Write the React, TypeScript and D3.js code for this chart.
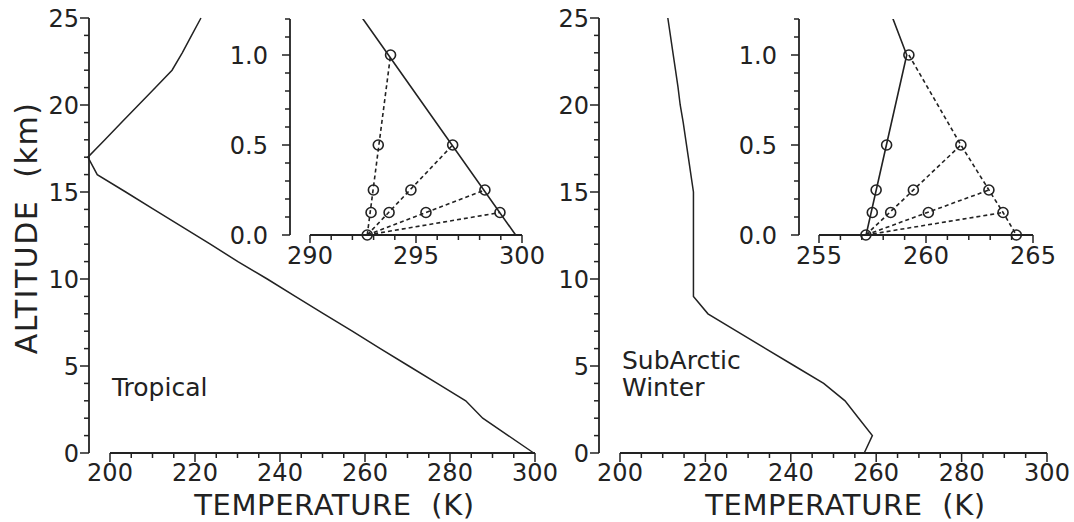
import React from 'react';
import * as d3 from 'd3';

// ---- Data ----
const ALT_KM = [0, 1, 2, 3, 4, 5, 6, 7, 8, 9, 10, 11, 12, 13, 14, 15, 16, 17, 18, 19, 20, 21, 22, 23, 24, 25];
const TROPICAL_T = [299.7, 293.7, 287.7, 283.7, 277.0, 270.3, 263.6, 257.0, 250.3, 243.6, 237.0, 230.1, 223.6, 217.0, 210.3, 203.7, 197.0, 194.8, 198.8, 202.7, 206.7, 210.7, 214.6, 217.0, 219.2, 221.4];
const SUBARCTIC_T = [257.2, 259.1, 255.9, 252.7, 247.7, 240.9, 234.1, 227.3, 220.6, 217.2, 217.2, 217.2, 217.2, 217.2, 217.2, 217.2, 216.6, 216.0, 215.4, 214.8, 214.1, 213.6, 213.0, 212.4, 211.8, 211.2];

const MAIN_X_TICKS = [200, 220, 240, 260, 280, 300];
const MAIN_Y_TICKS = [0, 5, 10, 15, 20, 25];
const INSET_Y_TICKS = [0.0, 0.5, 1.0];
const TROP_INSET_X_TICKS = [290, 295, 300];
const SAW_INSET_X_TICKS = [255, 260, 265];

// Tropical inset markers
const TROP_CIRCLE_ALT = [1.0, 0.5, 0.5, 0.25, 0.25, 0.25, 0.125, 0.125, 0.125, 0.125, 0];
const TROP_CIRCLE_T = [293.8, 293.22, 296.73, 292.99, 294.76, 298.25, 292.88, 293.73, 295.47, 298.96, 292.7];
// Tropical dashed lines (each from the surface point to an end point)
const TROP_DASH_START = [292.7, 0];
const TROP_DASH_END_T = [293.8, 296.73, 298.25, 298.96];
const TROP_DASH_END_ALT = [1.0, 0.5, 0.25, 0.125];

// SubArctic winter inset markers
const SAW_CIRCLE_ALT = [1.0, 0.5, 0.5, 0.25, 0.25, 0.25, 0.125, 0.125, 0.125, 0.125, 0, 0];
const SAW_CIRCLE_T = [259.2, 258.16, 261.63, 257.67, 259.41, 262.94, 257.49, 258.35, 260.11, 263.6, 257.19, 264.22];
const SAW_DASH_START = [257.19, 0];
const SAW_DASH_END_T = [261.63, 262.94, 263.6];
const SAW_DASH_END_ALT = [0.5, 0.25, 0.125];
const SAW_CHAIN_T = [259.2, 261.63, 262.94, 263.6, 264.22];
const SAW_CHAIN_ALT = [1.0, 0.5, 0.25, 0.125, 0];

const INK = '#222';
const FONT = '"DejaVu Sans", Arial, sans-serif';

type Pt = [number, number];

function zipPts(ts: number[], alts: number[]): Pt[] {
  return ts.map((t, i) => [t, alts[i]] as Pt);
}

interface AxesProps {
  x: d3.ScaleLinear<number, number>;
  y: d3.ScaleLinear<number, number>;
  yAxisX: number;
  xMinorStep: number;
  yMinorStep: number;
  xLabels: number[];
  yLabels: number[];
  yFmt: (v: number) => string;
  yLabelGap: number;
  xLabelBaseline: number;
  majorLen: number;
  minorLen: number;
}

function Axes(p: AxesProps) {
  const [x0, x1] = p.x.domain();
  const [y0, y1] = p.y.domain();
  const xTicks = d3.range(x0, x1 + 1e-9, p.xMinorStep);
  const yTicks = d3.range(y0, y1 + 1e-9, p.yMinorStep);
  const isMajor = (v: number, arr: number[]) => arr.some((a) => Math.abs(a - v) < 1e-6);
  const yBase = p.y(y0);
  return (
    <g>
      <line x1={p.yAxisX} x2={p.yAxisX} y1={p.y(y1)} y2={yBase} stroke={INK} strokeWidth={1.8} />
      {yTicks.map((v, i) => {
        const maj = isMajor(v, p.yLabels);
        return (
          <line key={'yt' + i} x1={p.yAxisX} x2={p.yAxisX - (maj ? p.majorLen : p.minorLen)} y1={p.y(v)} y2={p.y(v)} stroke={INK} strokeWidth={1.5} />
        );
      })}
      {p.yLabels.map((v, i) => (
        <text key={'yl' + i} x={p.yAxisX - p.yLabelGap} y={p.y(v)} dy="0.36em" textAnchor="end" fontSize={24} fill={INK} fontFamily={FONT}>
          {p.yFmt(v)}
        </text>
      ))}
      <line x1={p.x(x0)} x2={p.x(x1)} y1={yBase} y2={yBase} stroke={INK} strokeWidth={1.8} />
      {xTicks.map((v, i) => {
        const maj = isMajor(v, p.xLabels);
        return (
          <line key={'xt' + i} x1={p.x(v)} x2={p.x(v)} y1={yBase} y2={yBase + (maj ? p.majorLen : p.minorLen)} stroke={INK} strokeWidth={1.5} />
        );
      })}
      {p.xLabels.map((v, i) => (
        <text key={'xl' + i} x={p.x(v)} y={p.xLabelBaseline} textAnchor="middle" fontSize={24} fill={INK} fontFamily={FONT}>
          {String(v)}
        </text>
      ))}
    </g>
  );
}

interface PanelProps {
  id: string;
  mainLeft: number;
  mainRight: number;
  insetLeft: number;
  insetRight: number;
  insetDomain: [number, number];
  insetXTicks: number[];
  profile: number[];
  label: string[];
  circleT: number[];
  circleAlt: number[];
  dashed: Pt[][];
}

function Panel(p: PanelProps) {
  const x = d3.scaleLinear().domain([200, 300]).range([p.mainLeft, p.mainRight]);
  const y = d3.scaleLinear().domain([0, 25]).range([453, 18]);
  const xi = d3.scaleLinear().domain(p.insetDomain).range([p.insetLeft, p.insetRight]);
  const yi = d3.scaleLinear().domain([0, 1.2]).range([235, 19]);

  const mainLine = d3.line<Pt>().x((d) => x(d[0])).y((d) => y(d[1]));
  const insetLine = d3.line<Pt>().x((d) => xi(d[0])).y((d) => yi(d[1]));
  const prof = zipPts(p.profile, ALT_KM);
  const circles = zipPts(p.circleT, p.circleAlt);
  const clipId = 'clip-' + p.id;

  return (
    <g>
      <Axes
        x={x}
        y={y}
        yAxisX={p.mainLeft - 21}
        xMinorStep={5}
        yMinorStep={1}
        xLabels={MAIN_X_TICKS}
        yLabels={MAIN_Y_TICKS}
        yFmt={(v) => String(v)}
        yLabelGap={10}
        xLabelBaseline={481}
        majorLen={9}
        minorLen={5}
      />
      <path d={mainLine(prof) || ''} fill="none" stroke={INK} strokeWidth={1.5} />
      <text
        x={(p.mainLeft + p.mainRight) / 2 + 12}
        y={515}
        textAnchor="middle"
        fontSize={29}
        fill={INK}
        fontFamily={FONT}
        letterSpacing={0.6}
        style={{ whiteSpace: 'pre' }}
      >
        {'TEMPERATURE  (K)'}
      </text>
      {p.label.map((s, i) => (
        <text key={'lab' + i} x={p.mainLeft + 2} y={(p.label.length === 1 ? 396 : 369) + i * 27} fontSize={25} fill={INK} fontFamily={FONT}>
          {s}
        </text>
      ))}

      {/* Inset */}
      <defs>
        <clipPath id={clipId}>
          <rect x={xi.range()[0] - 30} y={yi(1.2)} width={xi.range()[1] - xi.range()[0] + 60} height={yi(0) - yi(1.2)} />
        </clipPath>
      </defs>
      <Axes
        x={xi}
        y={yi}
        yAxisX={p.insetLeft - 20}
        xMinorStep={1}
        yMinorStep={0.1}
        xLabels={p.insetXTicks}
        yLabels={INSET_Y_TICKS}
        yFmt={(v) => v.toFixed(1)}
        yLabelGap={22}
        xLabelBaseline={264}
        majorLen={8}
        minorLen={5}
      />
      <g clipPath={`url(#${clipId})`}>
        <path d={insetLine(prof) || ''} fill="none" stroke={INK} strokeWidth={1.6} />
      </g>
      {p.dashed.map((seg, i) => (
        <path key={'d' + i} d={insetLine(seg) || ''} fill="none" stroke={INK} strokeWidth={1.6} strokeDasharray="4,3" />
      ))}
      {circles.map((c, i) => (
        <circle key={'c' + i} cx={xi(c[0])} cy={yi(c[1])} r={5} fill="none" stroke={INK} strokeWidth={1.6} />
      ))}
    </g>
  );
}

export default function App() {
  const tropDashed: Pt[][] = TROP_DASH_END_T.map((t, i) => [
    [TROP_DASH_START[0], TROP_DASH_START[1]] as Pt,
    [t, TROP_DASH_END_ALT[i]] as Pt,
  ]);
  const sawDashed: Pt[][] = [
    ...SAW_DASH_END_T.map((t, i) => [
      [SAW_DASH_START[0], SAW_DASH_START[1]] as Pt,
      [t, SAW_DASH_END_ALT[i]] as Pt,
    ]),
    zipPts(SAW_CHAIN_T, SAW_CHAIN_ALT),
  ];

  return (
    <svg width={1074} height={522} style={{ position: 'absolute', left: 0, top: 0, background: 'white' }}>
      <rect x={0} y={0} width={1074} height={522} fill="white" />
      <text
        transform="translate(37,228) rotate(-90)"
        textAnchor="middle"
        fontSize={30}
        fill={INK}
        fontFamily={FONT}
        letterSpacing={1.5}
        style={{ whiteSpace: 'pre' }}
      >
        {'ALTITUDE  (km)'}
      </text>
      <Panel
        id="trop"
        mainLeft={110}
        mainRight={535}
        insetLeft={310}
        insetRight={522}
        insetDomain={[290, 300]}
        insetXTicks={TROP_INSET_X_TICKS}
        profile={TROPICAL_T}
        label={['Tropical']}
        circleT={TROP_CIRCLE_T}
        circleAlt={TROP_CIRCLE_ALT}
        dashed={tropDashed}
      />
      <Panel
        id="saw"
        mainLeft={620}
        mainRight={1047}
        insetLeft={819}
        insetRight={1033}
        insetDomain={[255, 265]}
        insetXTicks={SAW_INSET_X_TICKS}
        profile={SUBARCTIC_T}
        label={['SubArctic', 'Winter']}
        circleT={SAW_CIRCLE_T}
        circleAlt={SAW_CIRCLE_ALT}
        dashed={sawDashed}
      />
    </svg>
  );
}
